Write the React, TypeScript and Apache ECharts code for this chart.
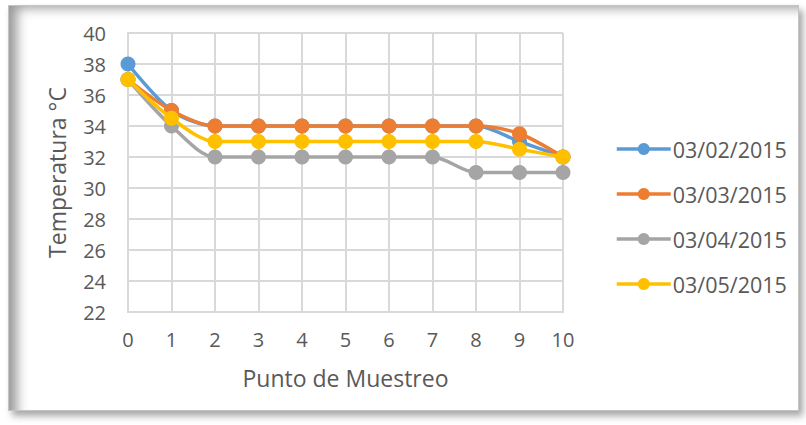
import React, { useEffect, useRef } from "react";
import * as echarts from "echarts";

const xValues = [0, 1, 2, 3, 4, 5, 6, 7, 8, 9, 10];
const seriesNames = ["03/02/2015", "03/03/2015", "03/04/2015", "03/05/2015"];
const s0302 = [38, 35, 34, 34, 34, 34, 34, 34, 34, 33, 32];
const s0303 = [37, 35, 34, 34, 34, 34, 34, 34, 34, 33.5, 32];
const s0304 = [37, 34, 32, 32, 32, 32, 32, 32, 31, 31, 31];
const s0305 = [37, 34.5, 33, 33, 33, 33, 33, 33, 33, 32.5, 32];
const colors = ["#5B9BD5", "#ED7D31", "#A5A5A5", "#FFC000"];

const FONT = "'Open Sans', 'Noto Sans', sans-serif";

export default function App() {
  const ref = useRef<HTMLDivElement>(null);
  useEffect(() => {
    if (!ref.current) return;
    const chart = echarts.init(ref.current, null, { renderer: "svg" });
    const all = [s0302, s0303, s0304, s0305];
    chart.setOption({
      animation: false,
      textStyle: { fontFamily: FONT },
      grid: { left: 128, right: 243, top: 33, bottom: 113, containLabel: false },
      xAxis: {
        type: "value",
        min: 0,
        max: 10,
        interval: 1,
        name: "Punto de Muestreo",
        nameLocation: "middle",
        nameGap: 54,
        nameTextStyle: { color: "#595959", fontSize: 23, fontFamily: FONT },
        axisLine: { show: true, lineStyle: { color: "#d9d9d9", width: 2 } },
        axisTick: { show: false },
        splitLine: { show: true, lineStyle: { color: "#d9d9d9", width: 2 } },
        axisLabel: { color: "#595959", fontSize: 20, margin: 17, fontFamily: FONT },
      },
      yAxis: {
        type: "value",
        min: 22,
        max: 40,
        interval: 2,
        name: "Temperatura °C",
        nameLocation: "middle",
        nameGap: 60,
        nameTextStyle: { color: "#595959", fontSize: 23, fontFamily: FONT },
        axisLine: { show: true, lineStyle: { color: "#d9d9d9", width: 2 } },
        axisTick: { show: false },
        splitLine: { show: true, lineStyle: { color: "#d9d9d9", width: 2 } },
        axisLabel: { color: "#595959", fontSize: 20, margin: 22, fontFamily: FONT },
      },
      legend: {
        orient: "vertical",
        left: 610,
        top: 133,
        itemWidth: 54,
        itemHeight: 15,
        itemGap: 23,
        lineStyle: { width: 3.5 },
        textStyle: { color: "#595959", fontSize: 21.5, fontFamily: FONT, padding: [0, 0, 0, -3] },
        data: seriesNames,
      },
      series: seriesNames.map((name, i) => ({
        name,
        type: "line",
        smooth: 0.3,
        data: xValues.map((x, j) => [x, all[i][j]]),
        symbol: "circle",
        symbolSize: 15,
        lineStyle: { color: colors[i], width: 3.5 },
        itemStyle: { color: colors[i] },
        z: 2 + i,
      })),
    });
    return () => chart.dispose();
  }, []);

  return (
    <div style={{ position: "fixed", left: 0, top: 0, width: 806, height: 425, background: "#fff" }}>
      <div
        style={{
          position: "absolute",
          left: 8,
          top: 5,
          width: 789,
          height: 404,
          border: "1px solid #c4c4c4",
          boxShadow: "inset 14px 8px 12px -6px rgba(0,0,0,0.4), 4px 5px 7px rgba(0,0,0,0.35)",
          background: "#fff",
        }}
      />
      <div ref={ref} style={{ position: "absolute", left: 0, top: 0, width: 806, height: 425 }} />
    </div>
  );
}
